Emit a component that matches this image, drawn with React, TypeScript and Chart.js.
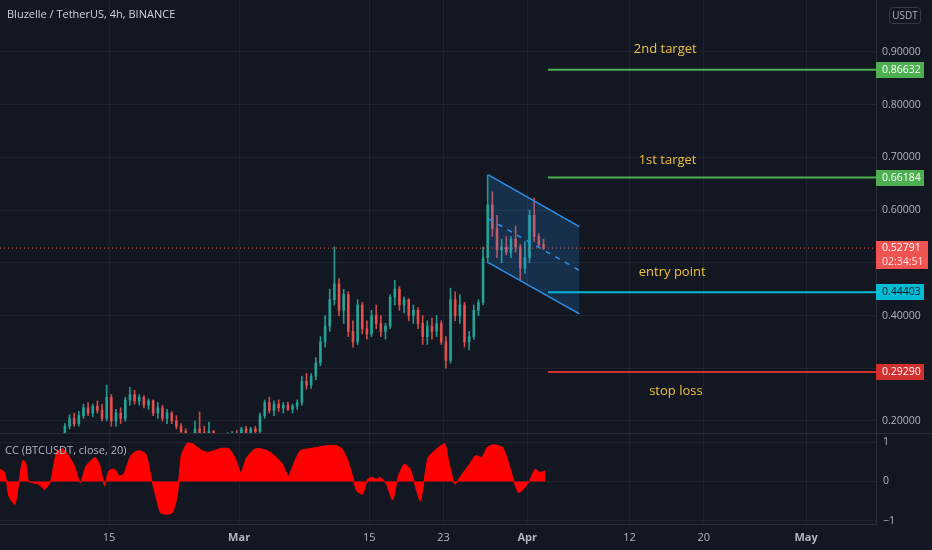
import React, { useEffect, useRef } from 'react';
import { Chart, registerables } from 'chart.js';
Chart.register(...registerables);

// ---------- text ----------
const TITLE = 'Bluzelle / TetherUS, 4h, BINANCE';
const INDICATOR_TITLE = 'CC (BTCUSDT, close, 20)';
const QUOTE = 'USDT';
const COUNTDOWN = '02:34:51';

// ---------- x axis (days since 2021-02-01) ----------
const xTickDays = [14, 28, 42, 50, 59, 70, 78, 89];
const xTickLabels = ['15', 'Mar', '15', '23', 'Apr', '12', '20', 'May'];
const monthTickDays = [28, 59, 89];

// ---------- candles (12h, first candle at day 9.25) ----------
const candleFirstDay = 9.25;
const candleStep = 0.5;
const opens = [
  0.170, 0.190, 0.205, 0.195, 0.210, 0.225, 0.215, 0.228, 0.220, 0.205,
  0.245, 0.200, 0.215, 0.205, 0.240, 0.250, 0.238, 0.245, 0.230, 0.238,
  0.215, 0.225, 0.205, 0.215, 0.200, 0.190, 0.180, 0.165, 0.170, 0.185,
  0.178, 0.170, 0.180, 0.165, 0.160, 0.155, 0.170, 0.175, 0.168, 0.185,
  0.178, 0.185, 0.180, 0.210, 0.235, 0.220, 0.232, 0.225, 0.230, 0.222,
  0.228, 0.235, 0.275, 0.268, 0.285, 0.310, 0.350, 0.380, 0.430, 0.460,
  0.410, 0.440, 0.370, 0.350, 0.420, 0.375, 0.365, 0.400, 0.385, 0.370,
  0.380, 0.435, 0.450, 0.420, 0.430, 0.400, 0.410, 0.385, 0.360, 0.380,
  0.370, 0.385, 0.350, 0.315, 0.430, 0.400, 0.420, 0.350, 0.360, 0.410,
  0.425, 0.510, 0.610, 0.565, 0.525, 0.530, 0.520, 0.545, 0.530, 0.490,
  0.510, 0.590, 0.550, 0.535,
];
const highs = [
  0.195, 0.212, 0.215, 0.218, 0.232, 0.235, 0.232, 0.238, 0.232, 0.268,
  0.250, 0.222, 0.225, 0.245, 0.264, 0.258, 0.250, 0.248, 0.242, 0.240,
  0.235, 0.230, 0.222, 0.218, 0.210, 0.195, 0.185, 0.175, 0.200, 0.217,
  0.190, 0.198, 0.182, 0.172, 0.170, 0.178, 0.180, 0.182, 0.188, 0.190,
  0.188, 0.190, 0.215, 0.240, 0.245, 0.238, 0.240, 0.235, 0.236, 0.232,
  0.240, 0.285, 0.290, 0.290, 0.320, 0.360, 0.400, 0.450, 0.530, 0.470,
  0.450, 0.445, 0.390, 0.430, 0.425, 0.390, 0.410, 0.420, 0.400, 0.385,
  0.440, 0.467, 0.455, 0.435, 0.432, 0.420, 0.415, 0.400, 0.390, 0.395,
  0.400, 0.390, 0.360, 0.452, 0.445, 0.440, 0.425, 0.370, 0.420, 0.430,
  0.530, 0.667, 0.635, 0.590, 0.545, 0.550, 0.550, 0.570, 0.535, 0.540,
  0.600, 0.623, 0.555, 0.545,
];
const lows = [
  0.160, 0.185, 0.190, 0.190, 0.205, 0.210, 0.208, 0.215, 0.200, 0.200,
  0.190, 0.190, 0.195, 0.200, 0.230, 0.232, 0.230, 0.225, 0.222, 0.210,
  0.205, 0.200, 0.195, 0.195, 0.185, 0.175, 0.160, 0.155, 0.165, 0.175,
  0.165, 0.165, 0.160, 0.155, 0.150, 0.150, 0.160, 0.165, 0.165, 0.175,
  0.172, 0.175, 0.178, 0.205, 0.215, 0.210, 0.218, 0.215, 0.220, 0.215,
  0.222, 0.230, 0.260, 0.262, 0.278, 0.305, 0.340, 0.370, 0.420, 0.400,
  0.385, 0.360, 0.340, 0.345, 0.365, 0.355, 0.360, 0.375, 0.360, 0.355,
  0.375, 0.420, 0.410, 0.405, 0.390, 0.385, 0.375, 0.345, 0.345, 0.355,
  0.360, 0.345, 0.300, 0.310, 0.390, 0.385, 0.340, 0.335, 0.355, 0.400,
  0.420, 0.500, 0.550, 0.510, 0.500, 0.515, 0.510, 0.520, 0.467, 0.480,
  0.500, 0.540, 0.530, 0.525,
];
const closes = [
  0.190, 0.205, 0.195, 0.210, 0.225, 0.215, 0.228, 0.220, 0.205, 0.245,
  0.200, 0.215, 0.205, 0.240, 0.250, 0.238, 0.245, 0.230, 0.238, 0.215,
  0.225, 0.205, 0.215, 0.200, 0.190, 0.180, 0.165, 0.170, 0.185, 0.178,
  0.170, 0.180, 0.165, 0.160, 0.155, 0.170, 0.175, 0.168, 0.185, 0.178,
  0.185, 0.180, 0.210, 0.235, 0.220, 0.232, 0.225, 0.230, 0.222, 0.228,
  0.235, 0.275, 0.268, 0.285, 0.310, 0.350, 0.380, 0.430, 0.460, 0.410,
  0.440, 0.370, 0.350, 0.420, 0.375, 0.365, 0.400, 0.385, 0.370, 0.380,
  0.435, 0.450, 0.420, 0.430, 0.400, 0.410, 0.385, 0.360, 0.380, 0.370,
  0.385, 0.350, 0.315, 0.430, 0.400, 0.420, 0.350, 0.360, 0.410, 0.425,
  0.510, 0.610, 0.565, 0.525, 0.530, 0.520, 0.545, 0.530, 0.490, 0.510,
  0.590, 0.550, 0.535, 0.52791,
];

// ---------- drawings ----------
const channelDays = [54.82, 64.61];
const channelUpper = [0.6667, 0.5686];
const channelMiddle = [0.5835, 0.4858];
const channelLower = [0.5003, 0.4030];

const levelStartDay = 61.24;
const levelPrices = [0.86632, 0.66184, 0.44403, 0.2929];
const levelNames = ['2nd target', '1st target', 'entry point', 'stop loss'];
const levelBoxTexts = ['0.86632', '0.66184', '0.44403', '0.29290'];
const lastPrice = 0.52791;
const lastPriceText = '0.52791';

// ---------- CC indicator ----------
const ccDays = [
  2.27, 2.78, 3.23, 3.87, 4.32, 4.70, 5.02, 5.34, 5.79, 6.43,
  7.07, 7.71, 8.35, 8.99, 9.63, 10.27, 10.91, 11.55, 12.51, 13.02,
  13.53, 13.98, 14.62, 15.07, 15.58, 16.35, 17.11, 17.95, 18.58, 19.03,
  19.54, 20.18, 20.82, 21.34, 21.78, 22.42, 23.06, 24.02, 24.66, 25.30,
  26.07, 26.90, 27.54, 28.18, 28.82, 29.78, 31.06, 32.02, 32.66, 33.30,
  33.94, 34.58, 35.54, 36.50, 37.46, 38.42, 39.06, 39.70, 40.34, 40.66,
  41.30, 41.81, 42.26, 42.90, 43.22, 43.86, 44.50, 45.14, 45.78, 46.42,
  47.06, 47.50, 47.89, 48.34, 49.29, 50.13, 50.57, 51.21, 51.85, 52.81,
  53.45, 54.09, 54.73, 55.37, 56.33, 56.97, 57.61, 58.06, 58.57, 59.21,
  59.85, 60.36, 60.94,
];
const ccValues = [
  0.31, 0.23, -0.37, -0.58, 0.0, 0.53, 0.49, 0.0, -0.03, -0.07,
  -0.2, 0.0, 0.74, 0.83, 0.66, 0.4, -0.03, 0.4, 0.61, 0.4,
  -0.11, 0.27, 0.31, 0.14, 0.19, 0.66, 0.78, 0.7, 0.06, -0.37,
  -0.79, -0.83, -0.79, -0.37, 0.66, 0.97, 0.95, 0.78, 0.74, 0.78,
  0.84, 0.83, 0.61, 0.23, 0.61, 0.83, 0.78, 0.61, 0.44, 0.14,
  0.49, 0.78, 0.83, 0.87, 0.91, 0.91, 0.83, 0.53, 0.02, -0.24,
  -0.32, 0.06, 0.1, 0.06, 0.1, -0.07, -0.47, 0.14, 0.44, 0.31,
  -0.2, -0.49, 0.0, 0.61, 0.83, 0.95, 0.49, -0.07, 0.14, 0.44,
  0.66, 0.61, 0.87, 0.93, 0.87, 0.49, -0.03, -0.28, -0.2, 0.0,
  0.31, 0.23, 0.27,
];
const ccTicks = [-1, 0, 1];

// ---------- styles ----------
const BG = '#131722';
const GRID = '#1f2330';
const AXIS_LINE = '#2a2e39';
const TXT = '#b2b5be';
const FONT = '"Open Sans", "DejaVu Sans", sans-serif';
const UP = 'rgba(38,166,154,0.9)';
const DOWN = 'rgba(239,83,80,0.85)';
const CHANNEL = '#2f8fe6';
const LEVEL_COLORS = ['#4caf50', '#4caf50', '#00bcd4', '#d32f2f'];
const LEVEL_TEXT_COLORS = ['#ffffff', '#ffffff', '#131722', '#ffffff'];
const LABEL_COLOR = '#efc03f';
const X_MIN = 2.27;
const X_MAX = 96.53;
const Y_MIN = 0.1772;
const Y_MAX = 0.9986;
const AXIS_W = 56;

const near = (a: number, b: number) => Math.abs(a - b) < 1e-6;
const noPad = (s: any) => {
  s.paddingTop = 0;
  s.paddingBottom = 0;
  s.paddingLeft = 0;
  s.paddingRight = 0;
};

export default function App() {
  const mainRef = useRef<HTMLCanvasElement>(null);
  const subRef = useRef<HTMLCanvasElement>(null);

  useEffect(() => {
    document.body.style.margin = '0';
    document.body.style.background = BG;

    const candleDays = opens.map((_, i) => candleFirstDay + i * candleStep);
    const candleColors = opens.map((o, i) => (closes[i] >= o ? UP : DOWN));
    const seg = (ys: number[]) => channelDays.map((d, i) => ({ x: d, y: ys[i] }));
    const flat = (y: number, from: number) => [
      { x: from, y },
      { x: X_MAX, y },
    ];

    const mainPlugin = {
      id: 'mainDecor',
      afterDraw(chart: any) {
        const { ctx, chartArea, scales } = chart;
        const y = scales.y;
        const x = scales.x;
        ctx.save();
        // header
        ctx.fillStyle = '#d1d4dc';
        ctx.font = `11px ${FONT}`;
        ctx.textBaseline = 'middle';
        ctx.textAlign = 'left';
        ctx.fillText(TITLE, 7, 15);
        // quote box
        ctx.strokeStyle = '#363a45';
        ctx.lineWidth = 1;
        ctx.beginPath();
        ctx.roundRect(889.5, 7.5, 31, 16, 3);
        ctx.stroke();
        ctx.fillStyle = TXT;
        ctx.font = `10px ${FONT}`;
        ctx.textAlign = 'center';
        ctx.fillText(QUOTE, 905, 16);
        // level labels
        const labelDy = [-20, -17, -20, 19];
        const labelDays = [73.85, 74.1, 74.6, 75.0];
        ctx.font = `13px ${FONT}`;
        ctx.fillStyle = LABEL_COLOR;
        levelNames.forEach((n, i) => {
          ctx.fillText(n, x.getPixelForValue(labelDays[i]), y.getPixelForValue(levelPrices[i]) + labelDy[i]);
        });
        // axis boxes
        ctx.textAlign = 'left';
        ctx.font = `10.5px ${FONT}`;
        const bx = chartArea.right;
        levelPrices.forEach((p, i) => {
          const py = Math.round(y.getPixelForValue(p));
          ctx.fillStyle = LEVEL_COLORS[i];
          ctx.fillRect(bx, py - 8, 48, 16);
          ctx.fillStyle = LEVEL_TEXT_COLORS[i];
          ctx.fillText(levelBoxTexts[i], bx + 6, py + 0.5);
        });
        const ly = Math.round(y.getPixelForValue(lastPrice));
        ctx.fillStyle = '#f05350';
        ctx.fillRect(bx, ly - 7, 52, 28);
        ctx.fillStyle = '#ffffff';
        ctx.fillText(lastPriceText, bx + 6, ly + 0.5);
        ctx.fillStyle = 'rgba(255,255,255,0.85)';
        ctx.fillText(COUNTDOWN, bx + 6, ly + 14);
        ctx.restore();
      },
    };

    const main = new Chart(mainRef.current as HTMLCanvasElement, {
      type: 'bar',
      data: {
        datasets: [
          {
            type: 'line',
            data: seg(channelUpper),
            borderColor: CHANNEL,
            borderWidth: 1.5,
            pointRadius: 0,
            fill: false,
            order: 0,
          } as any,
          {
            type: 'line',
            data: seg(channelLower),
            borderColor: CHANNEL,
            borderWidth: 1.5,
            pointRadius: 0,
            fill: '-1',
            backgroundColor: 'rgba(33,150,243,0.2)',
            order: 0,
          } as any,
          {
            type: 'line',
            data: seg(channelMiddle),
            borderColor: CHANNEL,
            borderWidth: 1.5,
            borderDash: [5, 6],
            pointRadius: 0,
            fill: false,
            order: 0,
          } as any,
          ...levelPrices.map((p, i) => ({
            type: 'line',
            data: flat(p, levelStartDay),
            borderColor: LEVEL_COLORS[i],
            borderWidth: 2,
            pointRadius: 0,
            fill: false,
            order: 1,
          })) as any[],
          {
            type: 'line',
            data: flat(lastPrice, X_MIN),
            borderColor: '#ef5350',
            borderWidth: 1,
            borderDash: [1, 3],
            pointRadius: 0,
            fill: false,
            order: 2,
          } as any,
          {
            type: 'bar',
            data: candleDays.map((d, i) => ({ x: d, y: [lows[i], highs[i]] })),
            backgroundColor: candleColors,
            barThickness: 1,
            grouped: false,
            clip: 0,
            order: 6,
          } as any,
          {
            type: 'bar',
            data: candleDays.map((d, i) => ({ x: d, y: [opens[i], closes[i]] })),
            backgroundColor: candleColors,
            barThickness: 2,
            grouped: false,
            clip: 0,
            order: 5,
          } as any,
        ],
      },
      options: {
        animation: false,
        responsive: true,
        maintainAspectRatio: false,
        layout: { padding: 0, autoPadding: false },
        plugins: { legend: { display: false }, tooltip: { enabled: false } },
        scales: {
          x: {
            type: 'linear',
            min: X_MIN,
            max: X_MAX,
            offset: false,
            grid: { color: GRID, drawTicks: false, offset: false },
            border: { display: false },
            ticks: { display: false },
            afterBuildTicks: (s: any) => {
              s.ticks = xTickDays.map((v) => ({ value: v }));
            },
            afterFit: (s: any) => {
              s.height = 0;
              noPad(s);
            },
          },
          y: {
            type: 'linear',
            position: 'right',
            min: Y_MIN,
            max: Y_MAX,
            grid: { color: GRID, drawTicks: false },
            border: { color: AXIS_LINE },
            ticks: {
              stepSize: 0.1,
              includeBounds: false,
              color: TXT,
              font: { family: FONT, size: 10.5 },
              padding: 6,
              crossAlign: 'near',
              callback: (v: any) => (near(v, 0.3) || near(v, 0.5) ? '' : Number(v).toFixed(5)),
            },
            afterFit: (s: any) => {
              s.width = AXIS_W;
              noPad(s);
            },
          },
        } as any,
      },
      plugins: [mainPlugin],
    });

    const subPlugin = {
      id: 'subDecor',
      afterDraw(chart: any) {
        const { ctx, width } = chart;
        ctx.save();
        ctx.strokeStyle = AXIS_LINE;
        ctx.lineWidth = 1;
        ctx.beginPath();
        ctx.moveTo(0, 0.5);
        ctx.lineTo(width, 0.5);
        ctx.stroke();
        ctx.fillStyle = TXT;
        ctx.font = `11px ${FONT}`;
        ctx.textBaseline = 'middle';
        ctx.textAlign = 'left';
        ctx.fillText(INDICATOR_TITLE, 5, 18);
        ctx.restore();
      },
    };

    const sub = new Chart(subRef.current as HTMLCanvasElement, {
      type: 'line',
      data: {
        datasets: [
          {
            data: ccDays.map((d, i) => ({ x: d, y: ccValues[i] })),
            borderColor: '#ff0000',
            backgroundColor: '#ff0000',
            borderWidth: 1,
            fill: 'origin',
            pointRadius: 0,
            tension: 0.2,
            clip: 0,
          } as any,
        ],
      },
      options: {
        animation: false,
        responsive: true,
        maintainAspectRatio: false,
        layout: { padding: 0, autoPadding: false },
        plugins: { legend: { display: false }, tooltip: { enabled: false } },
        scales: {
          x: {
            type: 'linear',
            min: X_MIN,
            max: X_MAX,
            grid: { color: GRID, drawTicks: false },
            border: { color: AXIS_LINE },
            ticks: {
              color: TXT,
              padding: 7,
              maxRotation: 0,
              autoSkip: false,
              font: (c: any) => ({
                family: FONT,
                size: 11,
                weight: c.tick && monthTickDays.includes(c.tick.value) ? 'bold' : 'normal',
              }),
              callback: (_v: any, i: number) => xTickLabels[i],
            },
            afterBuildTicks: (s: any) => {
              s.ticks = xTickDays.map((v) => ({ value: v }));
            },
            afterFit: (s: any) => {
              s.height = 26;
              noPad(s);
            },
          },
          y: {
            type: 'linear',
            position: 'right',
            min: -1.076,
            max: 1.228,
            grid: { color: GRID, drawTicks: false },
            border: { color: AXIS_LINE },
            ticks: {
              color: TXT,
              font: { family: FONT, size: 10.5 },
              padding: 7,
              crossAlign: 'near',
              callback: (v: any) => (v < 0 ? '\u2212' + Math.abs(v) : String(v)),
            },
            afterBuildTicks: (s: any) => {
              s.ticks = ccTicks.map((v) => ({ value: v }));
            },
            afterFit: (s: any) => {
              s.width = AXIS_W;
              noPad(s);
            },
          },
        } as any,
      },
      plugins: [subPlugin],
    });

    return () => {
      main.destroy();
      sub.destroy();
    };
  }, []);

  return (
    <div style={{ position: 'relative', width: 932, height: 550, background: BG }}>
      <div style={{ position: 'absolute', left: 0, top: 0, width: 932, height: 433 }}>
        <canvas ref={mainRef} />
      </div>
      <div style={{ position: 'absolute', left: 0, top: 433, width: 932, height: 117 }}>
        <canvas ref={subRef} />
      </div>
    </div>
  );
}
